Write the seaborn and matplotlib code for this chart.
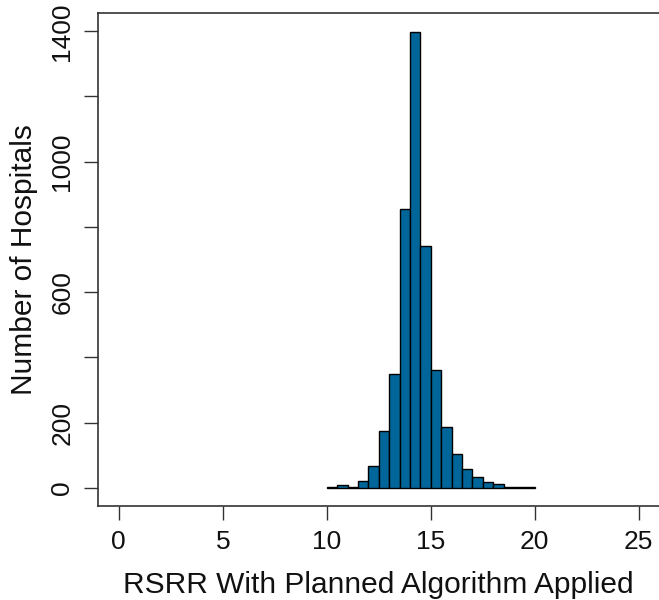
import numpy as np
import pandas as pd
import matplotlib
matplotlib.use('Agg')
import matplotlib.pyplot as plt
import seaborn as sns

# Histogram counts, bins of 0.5 from 10 to 20
bin_edges = [10.0, 10.5, 11.0, 11.5, 12.0, 12.5, 13.0, 13.5, 14.0, 14.5, 15.0,
             15.5, 16.0, 16.5, 17.0, 17.5, 18.0, 18.5, 19.0, 19.5, 20.0]
counts = [3, 8, 2, 22, 67, 173, 350, 856, 1398, 741, 360,
          187, 104, 58, 33, 18, 10, 3, 2, 1]
x_ticks = [0, 5, 10, 15, 20, 25]
y_ticks = [0, 200, 400, 600, 800, 1000, 1200, 1400]
y_labels = ['0', '200', '', '600', '', '1000', '', '1400']

centers = [(a + b) / 2 for a, b in zip(bin_edges[:-1], bin_edges[1:])]
df = pd.DataFrame({'rsrr': centers, 'n': counts})

sns.set_style('ticks')
plt.rcParams['font.family'] = ['Liberation Sans', 'DejaVu Sans']

fig = plt.figure(figsize=(6.59, 6.0), dpi=100)
ax = fig.add_axes([98 / 659, 94 / 600, 561.6 / 659, 493 / 600])

sns.histplot(data=df, x='rsrr', weights='n', bins=bin_edges, color='#00669a',
             edgecolor='black', linewidth=1.0, alpha=1, ax=ax)

ax.set_xlim(-1, 26)
ax.set_ylim(-56, 1456)
ax.set_xticks(x_ticks)
ax.set_yticks(y_ticks)
ax.set_yticklabels(y_labels, rotation=90, va='center')
ax.tick_params(axis='both', labelsize=19, length=10, width=1, color='#333333',
               pad=7, labelcolor='#111111')

for s in ax.spines.values():
    s.set_visible(True)
    s.set_color('#333333')
    s.set_linewidth(1.2)

ax.set_xlabel('RSRR With Planned Algorithm Applied', fontsize=21.5, labelpad=12.5, color='#111111')
ax.set_ylabel('Number of Hospitals', fontsize=21.5, labelpad=9, color='#111111')

fig.savefig('out.png', dpi=100)
